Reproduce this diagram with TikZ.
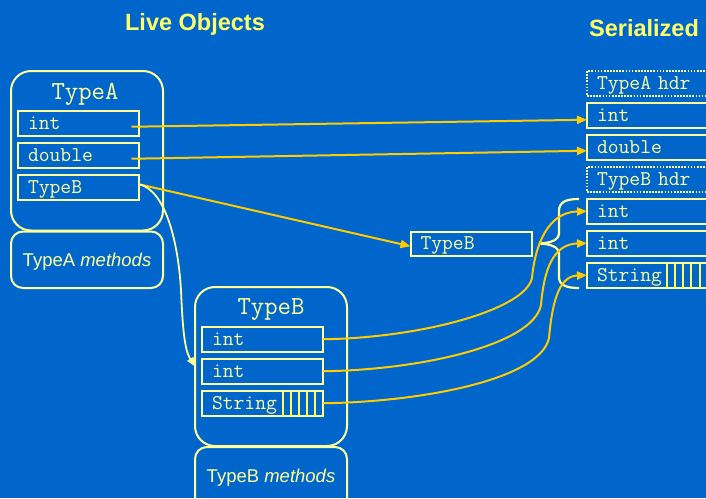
\documentclass[tikz,border=0pt]{standalone}
\usepackage{fontspec}
\setmainfont{Liberation Sans}
\usetikzlibrary{arrows.meta,calc}
\definecolor{bg}{HTML}{0066CC}
\definecolor{boxc}{HTML}{FFFF99}
\definecolor{gold}{HTML}{FFCC00}
\definecolor{titlec}{HTML}{FFFF66}
\definecolor{stripec}{HTML}{FFFF55}
\begin{document}
\begin{tikzpicture}[x=1pt,y=-1pt,
  objbox/.style={draw=boxc,line width=2pt,rounded corners=20pt,outer sep=0pt,inner sep=0pt},
  methbox/.style={draw=boxc,line width=2pt,rounded corners=12pt,outer sep=0pt,inner sep=0pt},
  field/.style={draw=boxc,line width=2pt,outer sep=0pt,minimum width=121pt,minimum height=24.5pt,
    inner xsep=10pt,text width=101pt,align=left,text height=12pt,text depth=0pt,anchor=north west,
    font=\ttfamily\fontsize{21}{22}\selectfont,text=boxc},
  dotfield/.style={field,dash pattern=on 1.7pt off 1.4pt},
  lbl/.style={font=\ttfamily\fontsize{26}{28}\selectfont,text=boxc,inner sep=0pt,anchor=base},
  mtxt/.style={font=\fontsize{18.5}{20}\selectfont,text=boxc,inner sep=0pt,anchor=base},
  ttl/.style={font=\bfseries\fontsize{23.5}{26}\selectfont,text=titlec,inner sep=0pt,anchor=base},
  garrow/.style={draw=gold,line width=2pt,-{Triangle[length=10pt,width=8pt]}},
  larrow/.style={draw=boxc,line width=1.8pt,-{Triangle[length=9pt,width=7pt]}},
  stripe/.style={draw=stripec,line width=2pt},
  bracec/.style={draw=boxc,line width=2.2pt}
]
\path[use as bounding box] (0,0) rectangle (706,498);
\fill[bg] (0,0) rectangle (706,498);
\clip (0,0) rectangle (706,498);

% titles
\node[ttl] (t1) at (195,30) {Live Objects};
\node[ttl] (t2) at (644,36.7) {Serialized};

% TypeA object
\node[objbox,minimum width=152pt,minimum height=159.5pt] (objA) at (87,150.75) {};
\node[methbox,minimum width=152pt,minimum height=56.5pt] (methA) at (87,259.75) {};
\node[lbl] (labA) at (85,99.3) {TypeA};
\node[mtxt] (mtA) at (87,266.7) {TypeA \textit{methods}};
\node[field] (aint) at (18,111) {int};
\node[field] (adbl) at (18,143) {double};
\node[field] (atb) at (18,175) {TypeB};

% TypeB object
\node[objbox,minimum width=152pt,minimum height=159pt] (objB) at (271,366.5) {};
\node[methbox,minimum width=152pt,minimum height=68pt] (methB) at (271,481) {};
\node[lbl] (labB) at (271,314.3) {TypeB};
\node[mtxt] (mtB) at (271,482.3) {TypeB \textit{methods}};
\node[field] (bint1) at (202,327) {int};
\node[field] (bint2) at (202,359) {int};
\node[field] (bstr) at (202,391) {String};
\foreach \i in {0,...,4}
  \draw[stripe] ($(bstr.north east)+(-40.3+8.15*\i,0)$) -- ($(bstr.south east)+(-40.3+8.15*\i,0)$);

% middle reference
\node[field] (mid) at (410.5,231.5) {TypeB};

% serialized column
\node[dotfield] (rhdrA) at (587,71) {TypeA hdr};
\node[field] (rint1) at (587,103) {int};
\node[field] (rdbl) at (587,135) {double};
\node[dotfield] (rhdrB) at (587,167) {TypeB hdr};
\node[field] (rint2) at (587,199) {int};
\node[field] (rint3) at (587,231) {int};
\node[field] (rstr) at (587,263) {String};
\foreach \i in {0,...,4}
  \draw[stripe] ($(rstr.north west)+(79.7+8.2*\i,0)$) -- ($(rstr.south west)+(79.7+8.2*\i,0)$);

% brace
\draw[bracec] (579,199) .. controls (566,199) and (559,202) .. (559,211) -- (559,233)
  .. controls (559,240) and (551,243) .. (539,243.5)
  .. controls (551,244) and (559,247) .. (559,254) -- (559,277)
  .. controls (559,285) and (566,288) .. (579,288);

% straight arrows
\draw[garrow] ([shift={(-7.5,3.5)}]aint.east) -- ([shift={(0,4.5)}]rint1.west);
\draw[garrow] ([shift={(-7.5,3.5)}]adbl.east) -- ([shift={(0,3.5)}]rdbl.west);
\draw[garrow] ([shift={(0,-3)}]atb.east) -- ([shift={(0,2.5)}]mid.west);

% TypeB pointer to object
\draw[larrow] ([shift={(0,-3)}]atb.east) .. controls (165,190) and (178,240) .. (181,290)
  .. controls (183,340) and (186,352) .. (objB.west);

% curved arrows
\draw[garrow] (bint1.east) .. controls (420,338) and (525,310) .. (532,278)
  .. controls (535,245) and (548,212) .. (rint2.west);
\draw[garrow] (bint2.east) .. controls (420,370) and (533,345) .. (541,305)
  .. controls (544,270) and (553,244) .. (rint3.west);
\draw[garrow] (bstr.east) .. controls (420,402) and (540,380) .. (549,338)
  .. controls (552,305) and (558,276) .. (rstr.west);
\end{tikzpicture}
\end{document}
